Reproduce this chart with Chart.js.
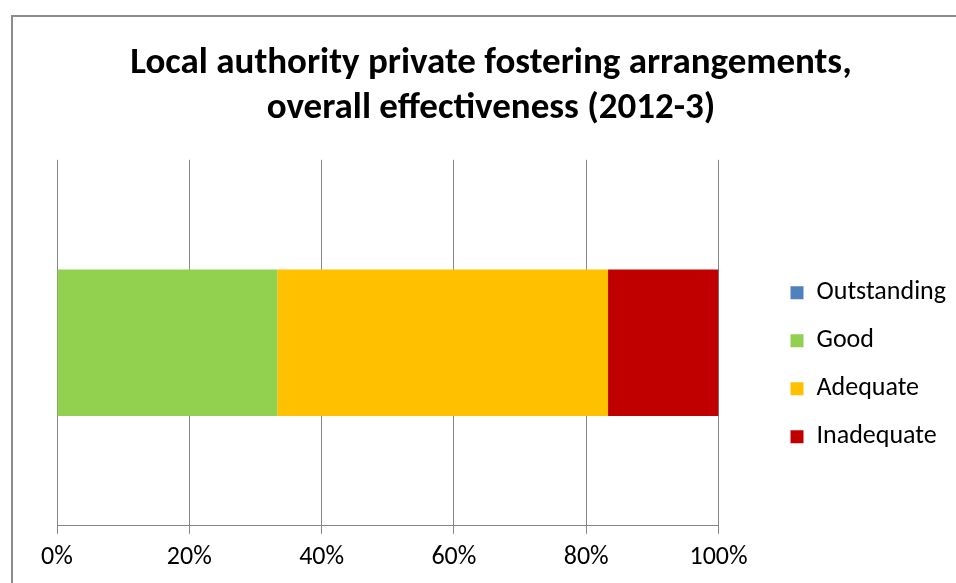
<!DOCTYPE html>
<html>
<head>
<meta charset="utf-8">
<script src="https://cdn.jsdelivr.net/npm/chart.js@4"></script>
<style>
  html, body { margin: 0; padding: 0; background: #fff; }
  #wrap { width: 956px; height: 583px; position: relative; }
</style>
</head>
<body>
<div id="wrap"><canvas id="grafico"></canvas></div>
<script>
const categorias = [''];
const series = ['Outstanding', 'Good', 'Adequate', 'Inadequate'];
const valores = [[0], [33.3], [50.0], [16.7]];
const cores = ['#4F81BD', '#92D050', '#FFC000', '#C00000'];
const ticksX = [0, 20, 40, 60, 80, 100];

const FONTE = "Calibri, Carlito, Lato, 'Noto Sans', sans-serif";

// moldura cinza do gráfico (só a esquerda e o topo aparecem)
const moldura = {
    id: 'moldura',
    beforeDraw(chart) {
        const c = chart.ctx;
        c.save();
        c.strokeStyle = '#8c8c8c';
        c.lineWidth = 2;
        c.beginPath();
        c.moveTo(12, chart.height + 5);
        c.lineTo(12, 16);
        c.lineTo(chart.width + 5, 16);
        c.stroke();
        c.restore();
    }
};

document.addEventListener('DOMContentLoaded', function() {
    const ctx = document.getElementById('grafico').getContext('2d');

    new Chart(ctx, {
        type: 'bar',
        data: {
            labels: categorias,
            datasets: series.map((nome, i) => ({
                label: nome,
                data: valores[i],
                backgroundColor: cores[i],
                borderWidth: 0,
                barPercentage: 0.4,
                categoryPercentage: 1
            }))
        },
        options: {
            indexAxis: 'y',
            responsive: true,
            maintainAspectRatio: false,
            animation: false,
            layout: { padding: { left: 26, right: 0, top: 0, bottom: 2 } },
            scales: {
                x: {
                    stacked: true,
                    min: 0,
                    max: 100,
                    afterBuildTicks: (s) => { s.ticks = ticksX.map(v => ({ value: v })); },
                    grid: { color: '#868686', tickLength: 8, drawTicks: true },
                    border: { color: '#868686' },
                    ticks: {
                        callback: (v) => v + '%',
                        padding: 8,
                        color: '#000',
                        maxRotation: 0,
                        font: { family: FONTE, size: 26 }
                    }
                },
                y: {
                    stacked: true,
                    grid: { display: false },
                    border: { display: false },
                    ticks: { display: false },
                    afterFit: (s) => { s.width = 31; }
                },
                // eixo vazio só para afastar a legenda da área do gráfico
                espaco: {
                    type: 'category',
                    position: 'right',
                    grid: { display: false },
                    border: { display: false },
                    ticks: { display: false },
                    afterFit: (s) => { s.width = 50; }
                }
            },
            plugins: {
                title: {
                    display: true,
                    text: ['Local authority private fostering arrangements,', 'overall effectiveness (2012-3)'],
                    color: '#000',
                    font: { family: FONTE, size: 37, weight: 'bold', lineHeight: 1.2 },
                    padding: { top: 42, bottom: 29 }
                },
                legend: {
                    position: 'right',
                    maxWidth: 300,
                    title: { display: true, text: ' ', font: { size: 12, lineHeight: 1.2 }, padding: { top: 67, bottom: 67 } },
                    labels: {
                        boxWidth: 13,
                        boxHeight: 13,
                        padding: 22,
                        color: '#000',
                        font: { family: FONTE, size: 26 }
                    }
                },
                tooltip: { enabled: false }
            }
        },
        plugins: [moldura]
    });
});
</script>
</body>
</html>
